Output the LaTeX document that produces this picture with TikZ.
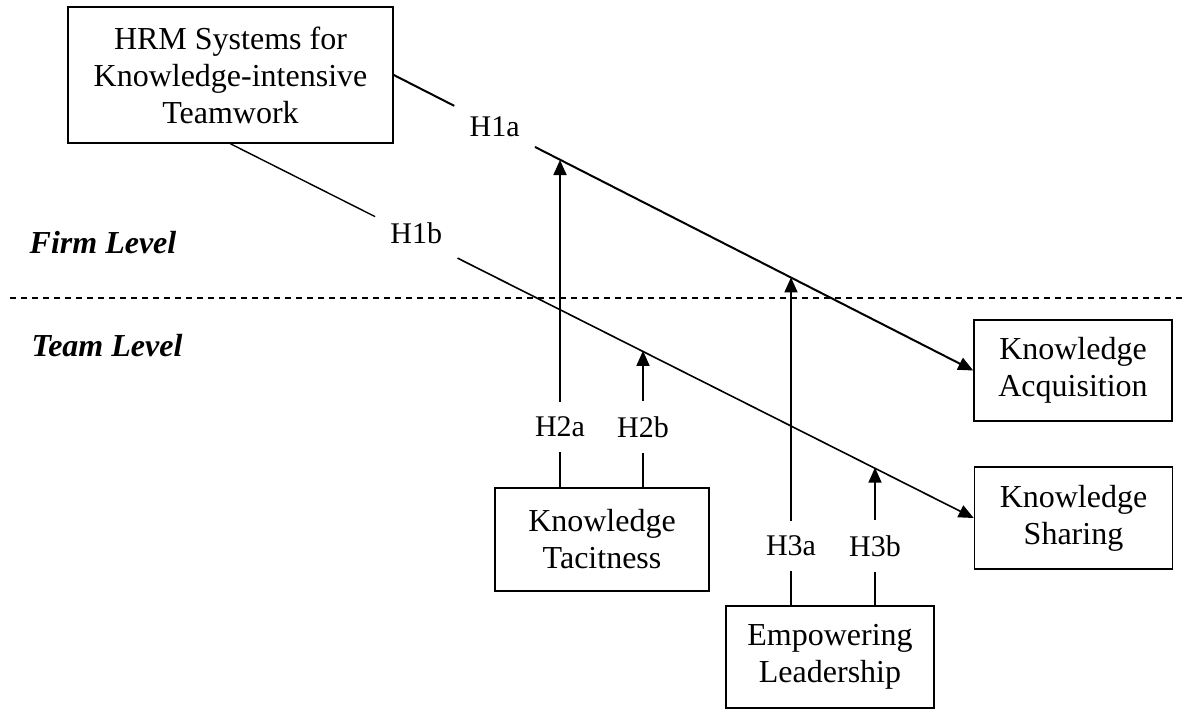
\documentclass[tikz,border=0pt]{standalone}
\usepackage{fontspec}
\setmainfont{Liberation Serif}
\usetikzlibrary{arrows.meta,calc}

\begin{document}
\begin{tikzpicture}[>={Triangle[length=7.5pt,width=6.5pt]}, x=0.5pt, y=-0.5pt,
  box/.style={draw, line width=0.8pt, align=center, inner sep=0pt, font=\fontsize{16}{18.5}\selectfont},
  hyp/.style={inner sep=7.5pt, font=\fontsize{15}{18.5}\selectfont},
  lvl/.style={font=\fontsize{16}{18.5}\selectfont\bfseries\itshape}]
\useasboundingbox (0,0) rectangle (1187,709);

%\draw [help lines] (0,0) grid (1187,709);

\node[box, minimum width=162.5pt, minimum height=68pt] (hrm) at (230.5,75) {HRM Systems for\\Knowledge-intensive\\Teamwork};
\node[box, minimum width=99pt, minimum height=50.5pt] (ka) at (1073,370.5) {Knowledge\\Acquisition};
\node[box, minimum width=99pt, minimum height=51pt] (ks) at (1073.5,518) {Knowledge\\Sharing};
\node[box, minimum width=107pt, minimum height=51.5pt] (kt) at (602,539.5) {Knowledge\\Tacitness};
\node[box, minimum width=104pt, minimum height=51pt] (el) at (830,657) {Empowering\\Leadership};

\node[lvl] (firm) at (103,243) {Firm Level};
\node[lvl] (team) at (107,346) {Team Level};
\draw [dashed, dash pattern=on 3pt off 2.5pt, line width=0.6pt] (10,298) -- (1187,298);

% main effects
\node[hyp] (h1a) at ($(hrm.east)!0.174!(ka.west)$) {H1a};
\node[hyp] (h1b) at ($(hrm.south)!0.25!(ks.west)$) {\raisebox{4pt}{H1b}};
\draw [line width=1pt] (hrm.east) -- (h1a);
\draw [->, line width=1pt] (h1a) -- (ka.west);
\draw [line width=0.7pt] (hrm.south) -- (h1b);
\draw [->, line width=0.8pt] (h1b) -- (ks.west);

% moderators
\node[hyp] (h2a) at (560,427) {H2a};
\node[hyp] (h2b) at (643,427) {H2b};
\node[hyp] (h3a) at (791,546) {H3a};
\node[hyp] (h3b) at (875,546) {H3b};

\coordinate (t2a) at (560,160);
\coordinate (t2b) at (643,350.8);
\coordinate (t3a) at (791,277.4);
\coordinate (t3b) at (875,467.6);

\draw [line width=0.9pt] (kt.north -| h2a) -- (h2a);
\draw [->, line width=0.9pt] (h2a) -- (t2a);
\draw [line width=0.7pt] (kt.north -| h2b) -- (h2b);
\draw [->, line width=0.7pt] (h2b) -- (t2b);
\draw [line width=0.9pt] (el.north -| h3a) -- (h3a);
\draw [->, line width=0.9pt] (h3a) -- (t3a);
\draw [line width=0.7pt] (el.north -| h3b) -- (h3b);
\draw [->, line width=0.7pt] (h3b) -- (t3b);

\end{tikzpicture}
\end{document}
